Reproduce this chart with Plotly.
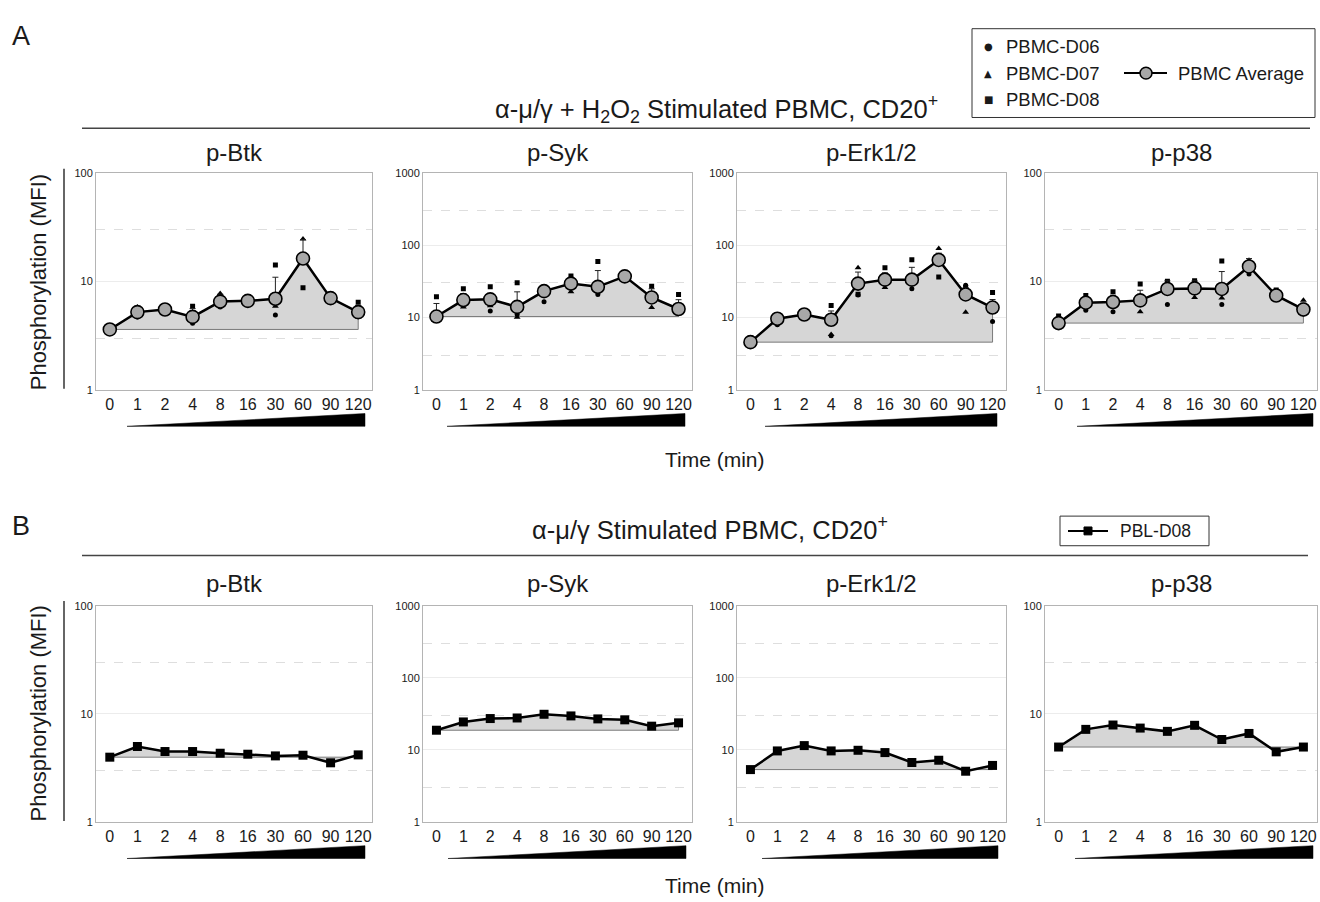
import plotly.graph_objects as go

W, H = 1320, 902

times = ["0", "1", "2", "4", "8", "16", "30", "60", "90", "120"]
panel_names = ["p-Btk", "p-Syk", "p-Erk1/2", "p-p38"]
top_decade = [2, 3, 3, 2]

# ---------- Panel A: alpha-mu/gamma + H2O2, three donors + average ----------
btk_avg = [3.6, 5.2, 5.5, 4.7, 6.5, 6.6, 6.9, 16.2, 7.0, 5.2]
btk_err = [0.3, 0.6, 0.3, 0.9, 1.1, 0.3, 4.0, 8.0, 0.4, 0.8]
btk_d06 = [3.5, 4.7, 5.3, 4.1, 5.8, 6.4, 4.9, 16.0, 6.8, 4.9]
btk_d07 = [3.9, 5.8, 5.6, 4.4, 7.7, 6.8, 5.9, 24.5, 7.2, 4.7]
btk_d08 = [3.5, 5.1, 5.6, 5.9, 6.2, 6.6, 14.1, 8.7, 7.0, 6.4]

syk_avg = [10.3, 17.4, 17.8, 14.0, 23.1, 29.4, 26.5, 37.0, 18.9, 13.1]
syk_err = [5.3, 4.0, 3.0, 8.6, 3.0, 5.0, 18.0, 5.0, 6.0, 4.5]
syk_d06 = [9.5, 15.0, 12.3, 11.0, 16.5, 28.0, 20.8, 34.0, 17.0, 12.0]
syk_d07 = [9.8, 14.0, 14.5, 10.1, 22.0, 22.6, 24.0, 36.0, 13.7, 11.5]
syk_d08 = [19.3, 25.0, 26.5, 30.3, 25.0, 37.4, 59.3, 40.0, 27.0, 20.8]

erk_avg = [4.56, 9.6, 11.0, 9.3, 29.4, 33.3, 33.3, 62.4, 20.8, 13.7]
erk_err = [0.5, 1.5, 0.8, 3.0, 13.0, 8.0, 16.0, 15.0, 5.0, 4.0]
erk_d06 = [4.4, 7.9, 10.5, 5.6, 20.4, 30.0, 25.0, 60.0, 27.9, 8.8]
erk_d07 = [4.8, 10.0, 11.2, 5.8, 48.6, 25.9, 30.0, 90.0, 11.8, 16.0]
erk_d08 = [5.2, 9.5, 11.3, 14.6, 21.0, 48.6, 63.0, 36.3, 26.0, 22.2]

p38_avg = [4.12, 6.35, 6.44, 6.67, 8.5, 8.6, 8.5, 13.7, 7.4, 5.5]
p38_err = [0.4, 0.8, 1.0, 1.6, 1.6, 1.5, 3.8, 2.5, 0.9, 0.8]
p38_d06 = [4.0, 5.4, 5.25, 6.2, 6.1, 8.6, 6.1, 11.7, 6.9, 5.0]
p38_d07 = [4.3, 6.9, 6.5, 5.25, 9.3, 7.1, 7.0, 15.6, 7.1, 6.7]
p38_d08 = [4.8, 7.4, 8.0, 9.45, 10.0, 10.1, 15.4, 13.8, 8.3, 5.3]

# ---------- Panel B: alpha-mu/gamma only, PBL-D08 ----------
pbl_btk = [3.98, 5.0, 4.49, 4.49, 4.33, 4.24, 4.09, 4.15, 3.53, 4.18]
pbl_syk = [18.8, 24.5, 27.3, 27.8, 31.3, 29.7, 27.0, 26.2, 21.4, 23.8]
pbl_erk = [5.34, 9.7, 11.5, 9.7, 9.9, 9.2, 6.7, 7.2, 5.07, 6.1]
pbl_p38 = [4.94, 7.2, 7.9, 7.4, 6.9, 7.85, 5.8, 6.6, 4.46, 4.94]

panelA = [
    (btk_avg, btk_err, btk_d06, btk_d07, btk_d08),
    (syk_avg, syk_err, syk_d06, syk_d07, syk_d08),
    (erk_avg, erk_err, erk_d06, erk_d07, erk_d08),
    (p38_avg, p38_err, p38_d06, p38_d07, p38_d08),
]
panelB = [pbl_btk, pbl_syk, pbl_erk, pbl_p38]

# ---------- geometry (pixels) ----------
cols = [(96, 372), (423, 692), (737, 1006), (1045, 1317)]
rowA = (169, 389)
rowB = (608, 827)
wedgesA = [(127, 365), (447, 685), (765, 997), (1077, 1313)]
wedgesB = [(127, 365), (448, 686), (762, 998), (1075, 1313)]

FONT = "Liberation Sans, Arial, sans-serif"
TXT = "#1a1a1a"


def px(x):
    return x / W


def py(y):
    return 1 - y / H


fig = go.Figure()
layout = dict(
    width=W, height=H, margin=dict(l=0, r=0, t=0, b=0),
    paper_bgcolor="white", plot_bgcolor="white", showlegend=False,
    font=dict(family=FONT, color=TXT),
)
shapes = []
annotations = []


def add_axes(idx, col, row, top):
    xa = "xaxis" if idx == 1 else f"xaxis{idx}"
    ya = "yaxis" if idx == 1 else f"yaxis{idx}"
    yid = "y" if idx == 1 else f"y{idx}"
    xid = "x" if idx == 1 else f"x{idx}"
    layout[xa] = dict(
        domain=[px(col[0]), px(col[1])], anchor=yid, type="category",
        categoryorder="array", categoryarray=times, range=[-0.5, 9.5],
        showgrid=False, zeroline=False, showline=True, mirror=True,
        linecolor="#b4b4b4", linewidth=1, ticks="",
        tickfont=dict(size=16, color=TXT), fixedrange=True,
    )
    tv = [10 ** k for k in range(top + 1)]
    layout[ya] = dict(
        domain=[py(row[1]), py(row[0])], anchor=xid, type="log",
        range=[0, top], tickvals=tv, ticktext=[str(v) for v in tv],
        showgrid=True, gridcolor="#ececec", gridwidth=1,
        minor=dict(tickvals=[3 * 10 ** k for k in range(top)], showgrid=True,
                   gridcolor="#dedede", griddash="dash", gridwidth=1, ticks=""),
        zeroline=False, showline=True, mirror=True, linecolor="#b4b4b4",
        linewidth=1, ticks="", tickfont=dict(size=11, color=TXT),
        fixedrange=True,
    )
    return xid, yid


def fill_trace(vals, xid, yid):
    return go.Scatter(
        x=times + [times[-1], times[0]], y=list(vals) + [vals[0], vals[0]],
        mode="lines", fill="toself", fillcolor="#d6d6d6",
        line=dict(color="#7a7a7a", width=1), xaxis=xid, yaxis=yid,
        hoverinfo="skip",
    )


# ---------- Panel A traces ----------
for i, (avg, err, d06, d07, d08) in enumerate(panelA):
    xid, yid = add_axes(i + 1, cols[i], rowA, top_decade[i])
    fig.add_trace(fill_trace(avg, xid, yid))
    for vals, sym, sz in ((d06, "circle", 5), (d07, "triangle-up", 6), (d08, "square", 5)):
        fig.add_trace(go.Scatter(x=times, y=vals, mode="markers",
                                 marker=dict(symbol=sym, size=sz, color="black"),
                                 xaxis=xid, yaxis=yid))
    fig.add_trace(go.Scatter(
        x=times, y=avg, mode="lines+markers", xaxis=xid, yaxis=yid,
        line=dict(color="black", width=2.5),
        marker=dict(symbol="circle", size=13, color="#a8a8a8",
                    line=dict(color="black", width=1.6)),
        error_y=dict(type="data", symmetric=False, array=err,
                     arrayminus=[0] * len(err), color="#222", thickness=1, width=3),
    ))

# ---------- Panel B traces ----------
for i, vals in enumerate(panelB):
    xid, yid = add_axes(i + 5, cols[i], rowB, top_decade[i])
    fig.add_trace(fill_trace(vals, xid, yid))
    fig.add_trace(go.Scatter(
        x=times, y=vals, mode="lines+markers", xaxis=xid, yaxis=yid,
        line=dict(color="black", width=2.5),
        marker=dict(symbol="square", size=9, color="black"),
    ))


def text(x, y, s, size, xanchor="center", angle=0, family=FONT):
    annotations.append(dict(
        x=px(x), y=py(y), xref="paper", yref="paper", text=s, showarrow=False,
        xanchor=xanchor, yanchor="middle", textangle=angle,
        font=dict(size=size, color=TXT, family=family)))


def line(x0, y0, x1, y1, color="#333", width=1.5):
    shapes.append(dict(type="line", xref="paper", yref="paper",
                       x0=px(x0), y0=py(y0), x1=px(x1), y1=py(y1),
                       line=dict(color=color, width=width)))


def wedge(x0, x1, ytop, ybot):
    shapes.append(dict(type="path", xref="paper", yref="paper",
                       path=f"M {px(x0)},{py(ybot)} L {px(x1)},{py(ybot)} L {px(x1)},{py(ytop)} Z",
                       fillcolor="black", line=dict(color="black", width=0.5)))


# subplot titles, wedges
for i in range(4):
    cx = (cols[i][0] + cols[i][1]) / 2
    text(cx, 148, panel_names[i], 24)
    text(cx, 585, panel_names[i], 24)
    wedge(wedgesA[i][0], wedgesA[i][1], 413, 426)
    wedge(wedgesB[i][0], wedgesB[i][1], 851, 864)

# panel letters, titles, axis labels
text(10, 30, "A", 27, xanchor="left")
text(10, 527, "B", 27, xanchor="left")
text(716, 104, "α-μ/γ + H<sub>2</sub>O<sub>2</sub> Stimulated PBMC, CD20<sup>+</sup>", 25.5)
text(710, 529, "α-μ/γ Stimulated PBMC, CD20<sup>+</sup>", 25.5)
line(82, 124, 1310, 124, "#444", 1.5)
line(82, 557, 1308, 557, "#444", 1.5)
line(64, 165, 64, 388, "#333", 1.5)
line(64, 603, 64, 826, "#333", 1.5)
text(38, 280, "Phosphorylation (MFI)", 22, angle=-90)
text(38, 717, "Phosphorylation (MFI)", 22, angle=-90)
text(715, 460, "Time (min)", 21)
text(715, 891, "Time (min)", 21)

# legend A (drawn)
shapes.append(dict(type="rect", xref="paper", yref="paper",
                   x0=px(972), y0=py(113), x1=px(1315), y1=py(23),
                   line=dict(color="#333", width=1), fillcolor="rgba(0,0,0,0)"))
SYM = "DejaVu Sans, sans-serif"
text(988, 41, "●", 10, family=SYM)
text(988, 68, "▲", 10, family=SYM)
text(988, 95, "■", 10, family=SYM)
text(1004, 41, "PBMC-D06", 18.5, xanchor="left")
text(1004, 68, "PBMC-D07", 18.5, xanchor="left")
text(1004, 95, "PBMC-D08", 18.5, xanchor="left")
line(1124, 68, 1167, 68, "black", 2)
shapes.append(dict(type="circle", xref="paper", yref="paper",
                   x0=px(1140), x1=px(1152), y0=py(74), y1=py(62),
                   fillcolor="#a8a8a8", line=dict(color="black", width=1.5)))
text(1176, 68, "PBMC Average", 18.5, xanchor="left")

# legend B (drawn)
shapes.append(dict(type="rect", xref="paper", yref="paper",
                   x0=px(1060), y0=py(547), x1=px(1209), y1=py(517),
                   line=dict(color="#333", width=1), fillcolor="rgba(0,0,0,0)"))
line(1068, 532, 1108, 532, "black", 2)
shapes.append(dict(type="rect", xref="paper", yref="paper",
                   x0=px(1084), x1=px(1092), y0=py(536), y1=py(528),
                   fillcolor="black", line=dict(color="black", width=1)))
text(1118, 532, "PBL-D08", 17.5, xanchor="left")

layout["shapes"] = shapes
layout["annotations"] = annotations
fig.update_layout(**layout)
fig.write_html(
    "out.html",
    config={"displayModeBar": False},
    post_script="document.body.style.margin='0px';document.body.style.overflow='hidden';",
)
